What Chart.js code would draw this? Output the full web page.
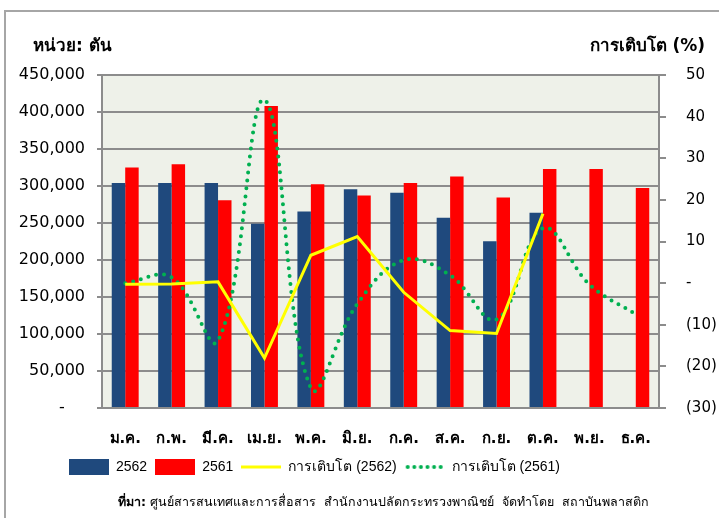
<!DOCTYPE html>
<html><head><meta charset="utf-8">
<script src="https://cdn.jsdelivr.net/npm/chart.js@4/dist/chart.umd.min.js"></script>
<style>
html,body{margin:0;padding:0;background:#fff;}
#wrap{position:relative;width:719px;height:518px;overflow:hidden;font-family:'DejaVu Sans','Noto Sans',sans-serif;}
#frame{position:absolute;left:4px;top:10px;width:800px;height:600px;border-top:2px solid #A6A6A6;border-left:2px solid #A6A6A6;}
#c{position:absolute;left:0;top:0;}
.t{position:absolute;font-weight:bold;font-size:17px;color:#000;white-space:nowrap;}
#src{position:absolute;left:118px;top:492px;font-size:12.5px;color:#000;white-space:nowrap;}
</style></head><body>
<div id="wrap">
<div id="frame"></div>
<canvas id="c" width="719" height="518"></canvas>
<div class="t" style="left:33px;top:31px">หน่วย: ตัน</div>
<div class="t" style="right:14px;top:31px">การเติบโต (%)</div>
<div id="src"><b>ที่มา:</b> ศูนย์สารสนเทศและการสื่อสาร&nbsp; สำนักงานปลัดกระทรวงพาณิชย์&nbsp; จัดทำโดย&nbsp; สถาบันพลาสติก</div>
</div>
<script>
const months = ['ม.ค.','ก.พ.','มี.ค.','เม.ย.','พ.ค.','มิ.ย.','ก.ค.','ส.ค.','ก.ย.','ต.ค.','พ.ย.','ธ.ค.'];
const prod2562 = [304000, 304000, 304000, 249000, 265700, 295500, 291000, 257100, 225400, 263900, null, null];
const prod2561 = [324900, 329400, 280600, 408000, 302300, 287300, 304000, 312700, 284600, 323000, 323000, 297300];
const growth2562 = [-0.3, -0.2, 0.3, -18.0, 6.7, 11.2, -2.2, -11.4, -12.1, 16.7, null, null];
const growth2561 = [0, 1.4, -13.8, 44, -25.2, -5, 5.5, 1.9, -8.7, 13.2, -0.3, -7.5];
const seriesNames = ['2562', '2561', 'การเติบโต (2562)', 'การเติบโต (2561)'];

const FONT = "'DejaVu Sans', 'Noto Sans', sans-serif";
const LFONT = "'Liberation Sans Narrow', 'Liberation Sans', sans-serif";
const BLUE = '#1F497D', RED = '#FF0000', YELLOW = '#FFFF00', GREEN = '#00B050';
const GRID = '#8C8C8C';

function legendIcon(kind, color) {
  const cv = document.createElement('canvas');
  cv.width = 40; cv.height = 16;
  const g = cv.getContext('2d');
  if (kind === 'box') { g.fillStyle = color; g.fillRect(0, 0, 40, 16); }
  else if (kind === 'line') { g.strokeStyle = color; g.lineWidth = 3; g.beginPath(); g.moveTo(0, 8); g.lineTo(40, 8); g.stroke(); }
  else { g.fillStyle = color; for (let i = 0; i < 6; i++) { g.beginPath(); g.arc(3 + i * 6.6, 8, 2, 0, Math.PI * 2); g.fill(); } }
  return cv;
}

const bgPlugin = {
  id: 'plotbg',
  beforeDraw(chart) {
    const a = chart.chartArea, ctx = chart.ctx;
    ctx.save(); ctx.fillStyle = '#EEF1E9'; ctx.fillRect(a.left, a.top, a.right - a.left, a.bottom - a.top); ctx.restore();
  },
  afterLayout(chart) {
    const l = chart.legend; const w = l.right - l.left;
    l.left = 61; l.right = 61 + w;
  }
};

new Chart(document.getElementById('c'), {
  data: {
    labels: months,
    datasets: [
      { type: 'bar', label: seriesNames[0], data: prod2562, backgroundColor: BLUE, yAxisID: 'y', order: 2,
        barPercentage: 1, categoryPercentage: 0.58, pointStyle: legendIcon('box', BLUE) },
      { type: 'bar', label: seriesNames[1], data: prod2561, backgroundColor: RED, yAxisID: 'y', order: 2,
        barPercentage: 1, categoryPercentage: 0.58, pointStyle: legendIcon('box', RED) },
      { type: 'line', label: seriesNames[2], data: growth2562, borderColor: YELLOW, backgroundColor: YELLOW, borderWidth: 3,
        pointRadius: 0, tension: 0, yAxisID: 'y1', order: 0, pointStyle: legendIcon('line', YELLOW) },
      { type: 'line', label: seriesNames[3], data: growth2561, borderColor: GREEN, backgroundColor: GREEN, borderWidth: 4,
        borderDash: [0, 8], borderCapStyle: 'round', pointRadius: 0, tension: 0.4, yAxisID: 'y1', order: 1,
        pointStyle: legendIcon('dots', GREEN) }
    ]
  },
  options: {
    responsive: false, animation: false,
    layout: { padding: { left: 0, right: 0, top: 75, bottom: 34 } },
    plugins: {
      tooltip: { enabled: false },
      legend: {
        position: 'bottom', align: 'start',
        labels: { usePointStyle: true, pointStyleWidth: 40, boxHeight: 15, padding: 8, color: '#000',
          font: { family: LFONT, size: 14 }, sort: (a, b) => a.datasetIndex - b.datasetIndex }
      }
    },
    scales: {
      x: {
        grid: { display: false, drawTicks: false },
        border: { display: true, color: GRID, width: 2 },
        ticks: { color: '#000', padding: 22, font: { family: FONT, size: 15, weight: 'bold' }, maxRotation: 0 },
        afterFit(s) { s.height = 44; }
      },
      y: {
        position: 'left', min: 0, max: 450000,
        ticks: { stepSize: 50000, color: '#000', padding: 12, font: { family: FONT, size: 16 },
          callback: v => v === 0 ? '-    ' : v.toLocaleString('en-US') },
        grid: { color: GRID, lineWidth: 2, tickLength: 5 },
        border: { display: true, color: GRID, width: 2 },
        afterFit(s) { s.width = 102; }
      },
      y1: {
        position: 'right', min: -30, max: 50,
        ticks: { stepSize: 10, color: '#000', padding: 20, font: { family: FONT, size: 15 },
          callback: v => v === 0 ? '-' : (v < 0 ? '(' + (-v) + ')' : String(v)) },
        grid: { drawOnChartArea: false, color: GRID, lineWidth: 2, tickLength: 7 },
        border: { display: true, color: GRID, width: 2 },
        afterFit(s) { s.width = 60; }
      }
    }
  },
  plugins: [bgPlugin]
});
</script>
</body></html>
